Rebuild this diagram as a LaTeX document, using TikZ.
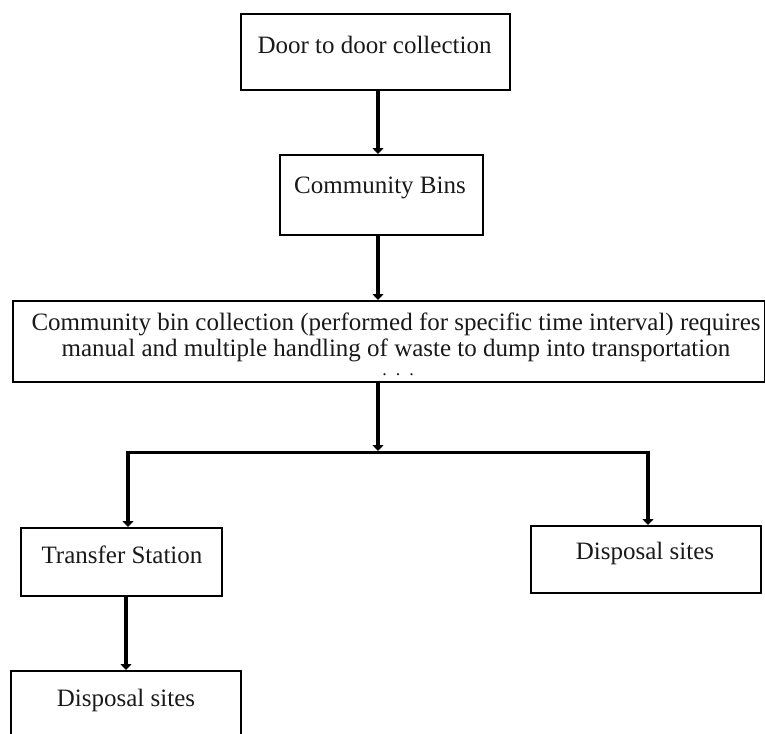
\documentclass[tikz,border=0pt]{standalone}
\usepackage{fontspec}
\setmainfont{Liberation Serif}
\usetikzlibrary{arrows.meta}
\begin{document}
\begin{tikzpicture}[x=1pt,y=-1pt,
  box/.style={draw, line width=2pt, inner sep=0pt, anchor=north west},
  lbl/.style={font=\fontsize{25}{25.5}\selectfont, align=center, inner sep=0pt, text=black!90},
  flow/.style={line width=4.5pt, -{Triangle[width=11pt,length=6pt]}},
  bar/.style={line width=3pt}]
\useasboundingbox (0,0) rectangle (765,733);
\clip (0,0) rectangle (765,733);
% boxes
\node[box, minimum width=269pt, minimum height=76pt] (b1) at (240,13) {};
\node[box, minimum width=203pt, minimum height=80pt] (b2) at (279,154) {};
\node[box, minimum width=752pt, minimum height=81pt] (b3) at (12,300) {};
\node[box, minimum width=201pt, minimum height=68pt] (b4) at (20,527) {};
\node[box, minimum width=230pt, minimum height=90pt] (b5) at (10,670) {};
\node[box, minimum width=230pt, minimum height=67pt] (b6) at (530,525) {};
% labels
\node[lbl] (t1) at (374.5,45) {Door to door collection};
\node[lbl] (t2) at (380,188) {Community Bins};
\node[lbl, anchor=north] (t3) at (396,313) {Community bin collection (performed for specific time interval) requires\\manual and multiple handling of waste to dump into transportation\\[-6pt]\hspace*{4pt}{\fontsize{18}{18}\selectfont .\ \ .\ \ .}};
\node[lbl] (t4) at (122,555) {Transfer Station};
\node[lbl] (t5) at (126,700) {Disposal sites};
\node[lbl] (t6) at (645,553) {Disposal sites};
% connectors
\coordinate (ax) at (378,0);
\coordinate (j) at (378,451);
\coordinate (jl) at (128,452);
\coordinate (jr) at (648,452);
\draw[flow] (b1.south -| ax) -- (b2.north -| ax);
\draw[flow] (b2.south -| ax) -- (b3.north -| ax);
\draw[flow] (b3.south -| ax) -- (j);
\draw[bar] (jl) -- (jr);
\draw[flow] ([yshift=1.5pt]jl) -- (jl |- b4.north);
\draw[flow] ([yshift=1.5pt]jr) -- (jr |- b6.north);
\draw[flow] (b4.south -| 126,0) -- (b5.north -| 126,0);
\end{tikzpicture}
\end{document}
